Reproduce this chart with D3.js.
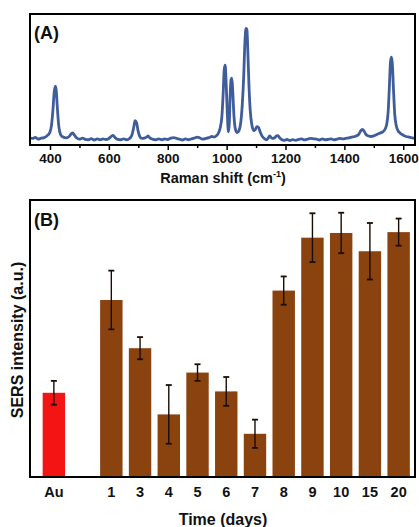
<!DOCTYPE html>
<html><head><meta charset="utf-8">
<script src="https://cdn.jsdelivr.net/npm/d3@7"></script>
<style>body{margin:0;background:#fff;}svg{display:block;font-family:Arial,"Liberation Sans",sans-serif;font-weight:bold;}</style>
</head><body><svg id="c" width="419" height="527"></svg>
<script>
// Panel A: Raman spectrum
const ramanShift = [332,340,350,360,370,380,390,400,405,410,414,418,421,425,430,436,445,455,465,472,477,483,490,500,510,520,530,540,550,560,570,580,590,600,608,614,620,628,640,650,660,670,678,684,689,694,699,705,712,720,728,733,739,748,760,770,780,790,800,810,820,830,840,850,860,870,880,890,900,908,918,930,940,950,958,965,972,978,984,988,992,995,998,1002,1006,1009,1012,1015,1018,1021,1025,1030,1036,1042,1048,1053,1058,1062,1066,1069,1072,1076,1080,1086,1092,1098,1103,1108,1114,1120,1128,1135,1142,1146,1150,1157,1163,1170,1174,1180,1188,1195,1205,1215,1225,1235,1245,1255,1265,1275,1285,1295,1305,1315,1325,1335,1345,1355,1365,1375,1385,1395,1405,1415,1425,1435,1442,1450,1456,1461,1466,1472,1480,1490,1500,1510,1520,1530,1538,1544,1549,1553,1557,1560,1563,1567,1571,1576,1582,1590,1600,1610,1620,1630,1640];
const ramanIntensity = [0.055,0.05,0.058,0.045,0.052,0.056,0.07,0.1,0.15,0.27,0.4,0.45,0.42,0.28,0.14,0.08,0.06,0.055,0.065,0.085,0.092,0.075,0.055,0.045,0.052,0.043,0.04,0.048,0.038,0.047,0.04,0.046,0.042,0.05,0.065,0.074,0.06,0.045,0.04,0.047,0.04,0.05,0.075,0.13,0.185,0.17,0.11,0.065,0.05,0.052,0.06,0.069,0.055,0.045,0.04,0.047,0.04,0.046,0.042,0.052,0.057,0.05,0.045,0.038,0.047,0.04,0.046,0.052,0.06,0.055,0.045,0.05,0.056,0.065,0.06,0.07,0.09,0.13,0.22,0.38,0.58,0.61,0.5,0.26,0.1,0.16,0.38,0.5,0.51,0.4,0.22,0.12,0.095,0.11,0.17,0.3,0.52,0.78,0.89,0.88,0.72,0.45,0.27,0.15,0.11,0.12,0.14,0.135,0.1,0.07,0.05,0.04,0.055,0.07,0.06,0.05,0.055,0.07,0.072,0.055,0.04,0.035,0.042,0.034,0.041,0.036,0.043,0.046,0.039,0.045,0.05,0.047,0.045,0.038,0.046,0.04,0.043,0.047,0.039,0.045,0.05,0.047,0.051,0.055,0.06,0.065,0.07,0.085,0.11,0.12,0.11,0.085,0.07,0.065,0.07,0.08,0.09,0.1,0.12,0.16,0.26,0.45,0.64,0.67,0.62,0.42,0.24,0.15,0.11,0.09,0.075,0.065,0.06,0.055,0.05];
const ramanTicks = [400,600,800,1000,1200,1400,1600];
const ramanMinorTicks = [500,700,900,1100,1300,1500];

// Panel B: SERS intensity over time
const categories = ["Au","","1","3","4","5","6","7","8","9","10","15","20"];
const barLabels = ["Au","1","3","4","5","6","7","8","9","10","15","20"];
const sersValues = [30.4,63.9,46.5,22.6,37.7,30.9,15.6,67.3,86.4,88.1,81.5,88.4];
const sersErrors = [4.3,10.6,4.0,10.6,3.0,5.2,5.1,5.1,8.8,7.3,10.2,4.9];

const svg = d3.select("#c");
const FONT = "Arial, 'Liberation Sans', sans-serif";

// ---------- Panel A ----------
const A = {l:30, r:415, t:14, b:145};
const xA = d3.scaleLinear().domain([332,1640]).range([A.l, A.r]);
const yA = d3.scaleLinear().domain([0,1]).range([A.b, A.t]);
const gA = svg.append("g");
const pts = ramanShift.map((x,i)=>[x, ramanIntensity[i]]);
gA.append("path").datum(pts)
  .attr("fill","none").attr("stroke","#3f5c9b").attr("stroke-width",2.8)
  .attr("stroke-linejoin","round")
  .attr("d", d3.line().x(d=>xA(d[0])).y(d=>yA(d[1])).curve(d3.curveMonotoneX));
gA.append("rect").attr("x",A.l).attr("y",A.t).attr("width",A.r-A.l).attr("height",A.b-A.t)
  .attr("fill","none").attr("stroke","#000").attr("stroke-width",2);
const axA = gA.append("g").attr("transform",`translate(0,${A.b})`)
  .call(d3.axisBottom(xA).tickValues(ramanTicks).tickFormat(d3.format("d")).tickSize(5).tickSizeOuter(0).tickPadding(3));
axA.select(".domain").remove();
axA.selectAll("line").attr("stroke-width",1.5);
axA.selectAll("text").attr("font-size",13.5).attr("font-family",FONT).attr("font-weight","bold").attr("fill","#111");
const axAm = gA.append("g").attr("transform",`translate(0,${A.b})`)
  .call(d3.axisBottom(xA).tickValues(ramanMinorTicks).tickSize(3).tickFormat(""));
axAm.select(".domain").remove();
axAm.selectAll("line").attr("stroke-width",1.5);
const tA = gA.append("text").attr("x",223).attr("y",183).attr("text-anchor","middle").attr("font-size",14.5).attr("fill","#111");
tA.append("tspan").text("Raman shift (cm");
tA.append("tspan").text("-1").attr("font-size",9).attr("dy",-6);
tA.append("tspan").text(")").attr("dy",6);
gA.append("text").attr("x",34).attr("y",39).attr("font-size",18).attr("fill","#111").text("(A)");

// ---------- Panel B ----------
const B = {l:30, r:415, t:200, b:477};
const xB = d3.scaleBand().domain(categories).range([39.5,413]).paddingInner(0.22).paddingOuter(0.11);
const yB = d3.scaleLinear().domain([0,100]).range([B.b, B.t]);
const gB = svg.append("g");
const barData = barLabels.map((c,i)=>({c, v:sersValues[i], e:sersErrors[i]}));
gB.selectAll("rect.bar").data(barData).join("rect").attr("class","bar")
  .attr("x",d=>xB(d.c)).attr("width",xB.bandwidth())
  .attr("y",d=>yB(d.v)).attr("height",d=>yB(0)-yB(d.v))
  .attr("fill",d=>d.c==="Au"?"#f41414":"#8a420f");
const eb = gB.selectAll("g.err").data(barData).join("g").attr("class","err")
  .attr("stroke","#1a0d05").attr("stroke-width",1.4);
eb.append("line").attr("x1",d=>xB(d.c)+xB.bandwidth()/2).attr("x2",d=>xB(d.c)+xB.bandwidth()/2)
  .attr("y1",d=>yB(d.v+d.e)).attr("y2",d=>yB(d.v-d.e));
[1,-1].forEach(s=>{
  eb.append("line").attr("x1",d=>xB(d.c)+xB.bandwidth()/2-3).attr("x2",d=>xB(d.c)+xB.bandwidth()/2+3)
    .attr("y1",d=>yB(d.v+s*d.e)).attr("y2",d=>yB(d.v+s*d.e)).attr("stroke-width",1.8);
});
gB.append("rect").attr("x",B.l).attr("y",B.t).attr("width",B.r-B.l).attr("height",B.b-B.t)
  .attr("fill","none").attr("stroke","#000").attr("stroke-width",2);
const axB = gB.append("g").attr("transform",`translate(0,${B.b})`)
  .call(d3.axisBottom(xB).tickValues(barLabels).tickSize(0).tickPadding(10));
axB.select(".domain").remove();
axB.selectAll("text").attr("font-size",14.5).attr("font-family",FONT).attr("font-weight","bold").attr("fill","#111");
gB.append("text").attr("x",223).attr("y",525).attr("text-anchor","middle").attr("font-size",16).attr("fill","#111").text("Time (days)");
gB.append("text").attr("transform","translate(23,340) rotate(-90)").attr("text-anchor","middle").attr("font-size",16).attr("fill","#111").text("SERS intensity (a.u.)");
gB.append("text").attr("x",34).attr("y",226).attr("font-size",18).attr("fill","#111").text("(B)");
</script></body></html>
